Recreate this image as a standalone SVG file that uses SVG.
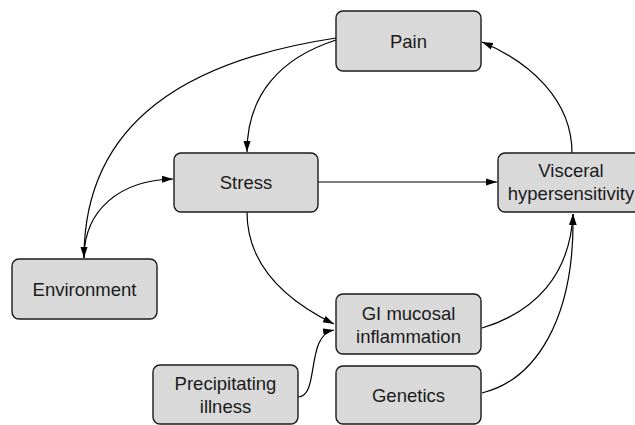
<svg xmlns="http://www.w3.org/2000/svg" width="635" height="425" viewBox="0 0 635 425">
<style>
.box{fill:#d9d9d9;stroke:#1a1a1a;stroke-width:1.4}
.lbl{font-family:"Liberation Sans",Arial,sans-serif;font-size:18.5px;fill:#1a1a1a;text-anchor:middle}
.edge{fill:none;stroke:#000;stroke-width:1.2;marker-end:url(#arr)}
</style>
<defs>
<marker id="arr" markerUnits="userSpaceOnUse" markerWidth="12" markerHeight="8" refX="11" refY="4" orient="auto">
<path d="M0,0.5 L11,4 L0,7.5 Z" fill="#000"/>
</marker>
</defs>
<rect width="635" height="425" fill="#fff"/>
<g id="connectors">
<path class="edge" d="M336,38 C190,60 84,120 84,258"/>
<path class="edge" d="M336,40 C280,58 247,95 247,152"/>
<path class="edge" d="M84,258 C84,210 120,180 173,179"/>
<path class="edge" d="M318,182 L497,182"/>
<path class="edge" d="M247,212 C247,265 285,300 334,324"/>
<path class="edge" d="M298,397 C320,397 305,335 334,330"/>
<path class="edge" d="M482,328 C535,312 570,275 573,214"/>
<path class="edge" d="M482,393 C535,380 575,320 573,214"/>
<path class="edge" d="M572,153 C572,100 530,62 482,42"/>
</g>
<g id="pain"><rect class="box" x="336" y="11" width="145" height="60" rx="7"/><text class="lbl" x="408.5" y="48">Pain</text></g>
<g id="stress"><rect class="box" x="174" y="153" width="144" height="59" rx="7"/><text class="lbl" x="246" y="189">Stress</text></g>
<g id="visceral"><rect class="box" x="498" y="153" width="145" height="59" rx="7"/><text class="lbl" x="571" y="177">Visceral</text><text class="lbl" x="571" y="200">hypersensitivity</text></g>
<g id="environment"><rect class="box" x="12" y="259" width="145" height="60" rx="7"/><text class="lbl" x="84.5" y="296">Environment</text></g>
<g id="precipitating"><rect class="box" x="153" y="365" width="145" height="59" rx="7"/><text class="lbl" x="225.5" y="390">Precipitating</text><text class="lbl" x="225.5" y="413">illness</text></g>
<g id="gi"><rect class="box" x="336" y="294" width="145" height="60" rx="7"/><text class="lbl" x="408.5" y="320">GI mucosal</text><text class="lbl" x="408.5" y="343">inflammation</text></g>
<g id="genetics"><rect class="box" x="336" y="366" width="145" height="58" rx="7"/><text class="lbl" x="408.5" y="402">Genetics</text></g>
</svg>
